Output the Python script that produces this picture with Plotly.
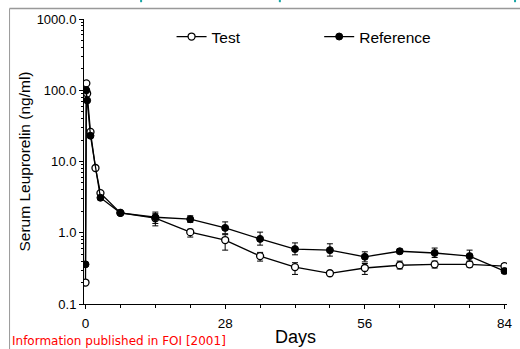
import plotly.graph_objects as go

# ---- data ----
test_days = [0, 0.17, 0.33, 1, 2, 3, 7, 14, 21, 28, 35, 42, 49, 56, 63, 70, 77, 84]
test_vals = [0.2, 125, 90, 26, 8.1, 3.6, 1.9, 1.6, 1.02, 0.79, 0.47, 0.33, 0.27, 0.32, 0.35, 0.36, 0.36, 0.34]
test_err_plus = [None, None, None, None, None, None, None, 0.25, 0.1, 0.15, 0.06, 0.05, 0.02, 0.05, 0.05, 0.04, 0.03, 0.03]
test_err_minus = [None, None, None, None, None, None, None, 0.35, 0.15, 0.22, 0.07, 0.07, 0.02, 0.06, 0.04, 0.04, 0.03, 0.03]

ref_days = [0, 0.17, 0.33, 1, 3, 7, 14, 21, 28, 35, 42, 49, 56, 63, 70, 77, 84]
ref_vals = [0.36, 100, 72, 23, 3.1, 1.9, 1.65, 1.55, 1.17, 0.82, 0.59, 0.57, 0.46, 0.55, 0.52, 0.47, 0.29]
ref_err_plus = [None, None, None, None, None, None, 0.3, 0.18, 0.25, 0.2, 0.13, 0.13, 0.08, 0.04, 0.09, 0.1, 0.02]
ref_err_minus = [None, None, None, None, None, None, 0.3, 0.15, 0.2, 0.15, 0.1, 0.1, 0.07, 0.04, 0.07, 0.07, 0.02]

x_tickvals = [0, 28, 56, 84]
x_ticktext = ["0", "28", "56", "84"]
y_tickvals = [0.1, 1, 10, 100, 1000]
y_ticktext = ["0.1", "1.0", "10.0", "100.0", "1000.0"]
y_minor_ticks = [m * d for d in [0.1, 1, 10, 100] for m in range(2, 10)]

FONT = "Liberation Sans, Arial, sans-serif"

fig = go.Figure()
fig.add_trace(go.Scatter(
    x=test_days, y=test_vals, name="Test", mode="lines+markers", legend="legend",
    line=dict(color="black", width=1.3),
    marker=dict(symbol="circle", size=7, color="white", line=dict(color="black", width=1.3)),
    error_y=dict(type="data", symmetric=False, array=test_err_plus, arrayminus=test_err_minus,
                 color="black", thickness=1, width=3),
))
fig.add_trace(go.Scatter(
    x=ref_days, y=ref_vals, name="Reference", mode="lines+markers", legend="legend2",
    line=dict(color="black", width=1.3),
    marker=dict(symbol="circle", size=7, color="black", line=dict(color="black", width=1)),
    error_y=dict(type="data", symmetric=False, array=ref_err_plus, arrayminus=ref_err_minus,
                 color="black", thickness=1, width=3),
))

legend_common = dict(yanchor="middle", xanchor="left", bgcolor="rgba(0,0,0,0)",
                     font=dict(size=15.5, family=FONT), itemwidth=30)

teal_marks = [dict(type="line", xref="paper", yref="paper", x0=xp, x1=xp, y0=1.067, y1=1.059,
                   line=dict(color="#1aa6a6", width=2)) for xp in [0.135, 0.463, 1.019]]

fig.update_layout(
    width=520, height=349,
    margin=dict(l=84, r=13, t=19, b=45, autoexpand=False),
    paper_bgcolor="white", plot_bgcolor="white",
    font=dict(family=FONT, color="black"),
    showlegend=True,
    legend=dict(x=0.207, y=0.937, **legend_common),
    legend2=dict(x=0.556, y=0.937, **legend_common),
    xaxis=dict(range=[-0.3, 84.5], showgrid=False, zeroline=False, automargin=False,
               showline=True, linecolor="black", linewidth=1,
               tickvals=x_tickvals, ticktext=x_ticktext, ticks="outside", ticklen=4,
               tickcolor="black", tickfont=dict(size=13.5, family=FONT), ticklabelstandoff=3,
               minor=dict(dtick=7, ticks="outside", ticklen=3, tickcolor="black"),
               title=dict(text="Days", font=dict(size=18, family=FONT), standoff=0)),
    yaxis=dict(type="log", range=[-1, 3], showgrid=False, zeroline=False, automargin=False,
               showline=True, linecolor="black", linewidth=1,
               tickvals=y_tickvals, ticktext=y_ticktext, ticks="outside", ticklen=4,
               tickcolor="black", tickfont=dict(size=13, family=FONT),
               minor=dict(tickmode="array", tickvals=y_minor_ticks, ticks="outside",
                          ticklen=2, tickcolor="black", showgrid=False),
               title=dict(text="Serum Leuprorelin (ng/ml)", font=dict(size=15.5, family=FONT), standoff=2)),
    annotations=[dict(text="Information published in FOI [2001]", xref="paper", yref="paper",
                      x=-0.175, y=-0.162, xanchor="left", yanchor="bottom", showarrow=False,
                      font=dict(size=12, color="red", family="DejaVu Sans, sans-serif"))],
    shapes=[
        dict(type="line", xref="paper", yref="paper", x0=-0.176, x1=1.04, y0=1.037, y1=1.037,
             line=dict(color="#999999", width=1.5)),
        dict(type="line", xref="paper", yref="paper", x0=-0.176, x1=-0.176, y0=1.037, y1=-0.16,
             line=dict(color="#999999", width=1)),
    ] + teal_marks,
)

fig.write_html("out.html", config={"displayModeBar": False},
               post_script="document.body.style.margin='0';document.body.style.overflow='hidden';")
